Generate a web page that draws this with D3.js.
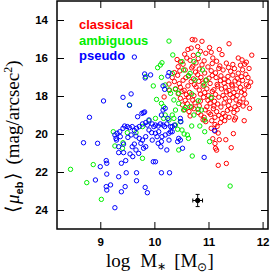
<!DOCTYPE html>
<html>
<head>
<meta charset="utf-8">
<script src="https://cdn.jsdelivr.net/npm/d3@7"></script>
<style>
body { margin: 0; background: #fff; }
.tick text { font-family: "Liberation Sans", Arial, sans-serif; font-weight: bold; font-size: 11.5px; }
.axisTitle { font-family: "Liberation Serif", "Times New Roman", serif; font-size: 19px; }
</style>
</head>
<body>
<div id="chart"></div>
<script>
// log M*, <mu_eb>
var classical = [
  [10.70,15.03],[10.75,15.05],[10.88,15.12],[11.38,15.25],[10.80,15.40],[10.62,15.55],[10.68,15.48],[11.02,15.45],[11.20,15.55],
  [10.56,15.80],[10.85,15.65],[10.95,15.75],[11.05,15.70],[11.25,15.82],[10.72,15.86],[11.80,15.85],[11.55,16.00],
  [10.60,16.00],[10.66,16.12],[10.81,16.03],[10.92,16.15],[11.08,16.00],[11.15,16.17],[11.62,16.10],[11.70,16.22],[10.48,16.20],[10.42,16.08],
  [10.44,16.46],[10.53,16.33],[10.71,16.43],[10.77,16.26],[10.88,16.36],[10.99,16.47],[11.07,16.29],[11.21,16.42],[11.33,16.27],[11.37,16.50],[11.45,16.34],[11.59,16.38],[11.67,16.33],
  [10.37,16.77],[10.47,16.68],[10.57,16.63],[10.69,16.52],[10.76,16.74],[10.83,16.58],[10.93,16.79],[11.05,16.67],[11.13,16.78],[11.19,16.55],[11.27,16.63],[11.41,16.70],[11.48,16.56],[11.55,16.80],[11.63,16.62],[11.69,16.86],[11.75,16.55],
  [10.33,17.03],[10.43,16.91],[10.58,17.04],[10.63,16.93],[10.72,17.10],[10.80,16.88],[10.86,17.02],[11.01,17.06],[11.07,16.92],[11.14,17.03],[11.23,16.94],[11.29,17.11],[11.36,16.97],[11.45,16.90],[11.53,17.07],[11.61,16.98],[11.73,17.03],
  [10.27,17.37],[10.37,17.24],[10.46,17.35],[10.53,17.17],[10.68,17.24],[10.74,17.40],[10.82,17.23],[10.90,17.32],[10.95,17.17],[11.03,17.34],[11.16,17.39],[11.22,17.19],[11.29,17.33],[11.37,17.24],[11.43,17.41],[11.49,17.21],[11.56,17.33],[11.63,17.18],[11.70,17.41],[11.78,17.27],
  [10.39,17.62],[10.48,17.54],[10.55,17.70],[10.62,17.47],[10.77,17.52],[10.83,17.69],[10.90,17.48],[10.97,17.62],[11.10,17.67],[11.17,17.48],[11.24,17.63],[11.31,17.53],[11.38,17.71],[11.44,17.47],[11.51,17.63],[11.59,17.55],[11.66,17.68],[11.74,17.50],
  [10.44,17.88],[10.51,17.77],[10.59,17.93],[10.65,17.81],[10.73,17.98],[10.85,17.90],[10.93,17.82],[11.00,17.98],[11.07,17.76],[11.13,17.92],[11.27,17.97],[11.33,17.78],[11.40,17.93],[11.47,17.82],[11.53,17.97],[11.61,17.80],[11.67,17.91],
  [10.48,18.12],[10.57,18.23],[10.63,18.06],[10.71,18.22],[10.85,18.27],[10.91,18.07],[10.99,18.23],[11.05,18.12],[11.11,18.28],[11.19,18.06],[11.31,18.12],[11.39,18.27],[11.45,18.07],[11.51,18.21],[11.58,18.32],[11.64,18.15],[11.70,18.37],
  [10.52,18.47],[10.61,18.41],[10.69,18.58],[10.75,18.36],[10.83,18.52],[10.97,18.57],[11.03,18.38],[11.10,18.53],[11.17,18.42],[11.23,18.58],[11.29,18.37],[11.37,18.51],[11.49,18.57],[11.56,18.45],[11.64,18.53],
  [10.56,18.72],[10.64,18.82],[10.73,18.67],[10.81,18.87],[10.94,18.73],[11.01,18.88],[11.09,18.67],[11.15,18.82],[11.27,18.92],[11.35,18.76],[11.41,18.67],[11.47,18.87],[11.53,18.72],[11.76,18.65],
  [10.66,19.05],[10.86,19.00],[10.92,19.12],[11.04,18.97],[11.12,19.12],[11.19,19.02],[11.24,19.17],[11.31,19.06],[11.38,19.12],[11.50,19.15],
  [10.90,19.25],[10.95,19.35],[11.06,19.30],[11.12,19.50],[11.22,19.40],[11.30,19.30],[11.48,19.26],[11.66,19.30],[11.16,19.60],
  [11.05,19.70],[11.12,19.85],[11.18,19.95],[11.46,19.98],[11.08,20.25],[11.20,20.30],[11.12,20.50],[11.32,20.30],[11.13,20.75],[11.15,20.85],[11.42,20.72],[11.18,21.65],[11.33,21.55],
  [10.18,18.05],[10.28,17.70]
];

var ambiguous = [
  [10.27,15.11],[10.34,15.84],[10.51,16.19],[10.73,16.19],[10.14,16.25],[10.11,16.37],[10.06,16.51],[9.84,16.98],[10.13,17.02],[10.33,16.81],
  [10.66,16.81],[10.75,17.16],[10.96,17.16],[9.98,17.47],[10.20,17.42],[10.27,17.68],[10.39,17.65],[10.30,17.86],[10.04,18.18],[10.13,18.39],
  [10.17,18.56],[10.36,18.21],[10.45,18.39],[10.57,18.61],[10.66,18.56],[10.81,18.25],[11.05,18.07],[10.81,18.70],[10.39,18.74],[10.33,19.00],
  [10.02,19.18],[9.90,19.30],[10.27,19.26],[10.36,19.18],[10.48,19.35],[10.39,19.53],[10.43,19.75],[10.61,20.05],[10.69,19.58],[10.93,19.88],
  [10.84,19.58],[9.54,18.47],[9.24,19.88],[9.27,20.63],[9.41,20.75],[9.42,20.46],[8.87,21.61],[8.45,21.86],[8.75,22.56],[9.02,23.44],
  [9.78,19.61],[9.50,19.93],[9.66,19.93],[9.78,21.28],[10.55,20.00],[10.63,20.23],[10.45,20.84],[11.02,20.40],[10.70,21.16],[11.40,22.74],
  [10.81,15.81],[10.54,16.63],[10.63,16.95],[10.89,16.63],[10.69,17.89],[10.92,17.42],[10.45,17.86],[10.54,18.74],[10.73,19.00],[10.87,18.74],
  [10.20,19.00],[10.17,19.18],[10.51,19.79],[10.93,19.26]
];

var pseudo = [
  [9.63,15.95],[9.06,18.26],[8.80,19.12],[9.42,18.07],[9.57,17.89],[9.54,18.49],[9.82,16.84],[9.93,16.89],[9.83,17.05],[9.80,18.88],
  [9.77,18.91],[9.69,19.09],[9.82,18.84],[8.69,20.46],[8.95,20.49],[9.27,20.05],[9.29,20.23],[9.31,19.96],[9.36,19.88],[9.42,19.70],
  [9.45,19.58],[9.50,19.61],[9.54,19.67],[9.59,19.61],[9.63,19.82],[9.67,19.70],[9.72,19.61],[9.78,19.47],[9.84,19.40],[9.87,19.53],
  [9.90,19.26],[9.96,19.47],[9.99,19.61],[10.02,19.53],[10.07,19.58],[10.11,19.47],[10.16,19.53],[10.19,19.61],[10.23,19.47],[10.30,19.61],
  [9.90,19.79],[9.95,19.93],[10.02,19.96],[10.08,19.88],[10.14,20.14],[10.20,20.05],[10.27,19.96],[10.30,19.88],[10.05,20.14],[9.84,20.14],
  [9.78,20.32],[9.72,20.23],[9.66,20.11],[9.57,20.05],[9.51,20.18],[9.43,20.53],[9.34,20.98],[9.43,20.98],[9.55,21.05],[9.39,21.54],
  [9.47,21.40],[9.11,21.40],[9.12,21.54],[9.00,21.72],[9.12,22.11],[9.34,22.25],[9.48,22.04],[8.91,22.42],[9.19,22.68],[9.11,22.77],
  [9.12,22.95],[9.46,22.77],[9.39,23.04],[9.27,23.88],[9.67,22.04],[9.67,22.46],[9.83,22.81],[9.87,23.09],[9.98,21.46],[10.02,21.46],
  [10.13,22.04],[10.28,22.04],[10.23,20.84],[10.12,20.67],[10.07,20.49],[10.13,20.40],[10.27,20.32],[10.25,19.18],[10.33,19.61],[10.16,17.47],
  [10.19,17.65],[10.20,18.65],[10.16,18.74],[10.13,19.00],[10.27,16.77],[10.25,16.95],[10.45,20.23],[10.43,20.40],[10.48,20.32],[10.52,20.75],
  [10.48,19.18],[10.49,19.35],[10.37,19.53],[10.92,21.23],[11.11,19.81],[10.33,19.88],[9.75,20.49],[9.80,20.75],[9.84,20.67],[9.63,20.53],
  [9.59,20.67],[9.66,20.84],[9.96,20.32],[9.71,21.02],[9.60,21.19],[9.30,20.32],[9.37,20.14],[9.34,20.67]
];

// typical error bar
var errPoint = [[10.8, 23.5]];
var errSize = [0.09, 0.32];

var classes = ["classical", "ambiguous", "pseudo"];
var classColors = ["#ff0000", "#00ee00", "#0000ff"];

var xMajor = [9, 10, 11, 12];
var yMajor = [14, 16, 18, 20, 22, 24];

var svgWidth = 273;
var svgHeight = 273;

var margin = {
    top: 1,
    right: 5,
    bottom: 44,
    left: 57
};

var width = svgWidth - margin.left - margin.right;
var height = svgHeight - margin.top - margin.bottom;

var svg = d3.select("#chart")
.append("svg")
.attr("width", svgWidth)
.attr("height", svgHeight);

var chartGroup = svg.append("g")
.attr("transform", `translate(${margin.left}, ${margin.top})`);

var xScale = d3.scaleLinear()
    .domain([8.2, 12.1])
    .range([0, width]);

var yScale = d3.scaleLinear()
    .domain([13, 25])
    .range([0, height]);

// minor ticks every 0.2 in x, 0.5 in y
var xMinor = d3.range(84, 122, 2).map(d => d / 10).filter(d => xMajor.indexOf(d) < 0);
var yMinor = d3.range(27, 50, 1).map(d => d / 2).filter(d => yMajor.indexOf(d) < 0);

function drawAxis(axisFn, scale, major, minor, transform, labels) {
    var g = chartGroup.append("g").attr("transform", transform);
    g.call(axisFn(scale).tickValues(minor).tickSize(-3.5).tickFormat(""));
    g.call(axisFn(scale).tickValues(major).tickSize(-7).tickPadding(labels ? 9 : 0)
        .tickFormat(labels ? d3.format("d") : ""));
    g.selectAll(".domain").remove();
    g.selectAll(".tick line").attr("stroke", "#000").attr("stroke-width", 1);
    return g;
}

drawAxis(d3.axisBottom, xScale, xMajor, xMinor, `translate(0, ${height})`, true);
drawAxis(d3.axisTop, xScale, xMajor, xMinor, "translate(0, 0)", false);
drawAxis(d3.axisLeft, yScale, yMajor, yMinor, "translate(0, 0)", true);
drawAxis(d3.axisRight, yScale, yMajor, yMinor, `translate(${width}, 0)`, false);

chartGroup.append("rect")
    .attr("width", width)
    .attr("height", height)
    .attr("fill", "none")
    .attr("stroke", "#000")
    .attr("stroke-width", 1.5);

// points
var sets = [classical, ambiguous, pseudo];
sets.forEach(function(set, i) {
    chartGroup.append("g").selectAll("circle")
    .data(set)
    .enter()
    .append("circle")
    .attr("cx", d => xScale(d[0]))
    .attr("cy", d => yScale(d[1]))
    .attr("r", 2.2)
    .attr("fill", "none")
    .attr("stroke", classColors[i])
    .attr("stroke-width", 1);
});

// error bar
var errGroup = chartGroup.append("g").attr("stroke", "#000").attr("stroke-width", 1);
errPoint.forEach(function(p) {
    var cx = xScale(p[0]), cy = yScale(p[1]);
    var x0 = xScale(p[0] - errSize[0]), x1 = xScale(p[0] + errSize[0]);
    var y0 = yScale(p[1] - errSize[1]), y1 = yScale(p[1] + errSize[1]);
    errGroup.append("line").attr("x1", x0).attr("x2", x1).attr("y1", cy).attr("y2", cy);
    errGroup.append("line").attr("x1", cx).attr("x2", cx).attr("y1", y0).attr("y2", y1);
    errGroup.append("line").attr("x1", x0).attr("x2", x0).attr("y1", cy - 2).attr("y2", cy + 2);
    errGroup.append("line").attr("x1", x1).attr("x2", x1).attr("y1", cy - 2).attr("y2", cy + 2);
    errGroup.append("line").attr("x1", cx - 2).attr("x2", cx + 2).attr("y1", y0).attr("y2", y0);
    errGroup.append("line").attr("x1", cx - 2).attr("x2", cx + 2).attr("y1", y1).attr("y2", y1);
    errGroup.append("circle").attr("cx", cx).attr("cy", cy).attr("r", 2.2).attr("fill", "#000");
});

// legend
chartGroup.selectAll(".legend")
    .data(classes)
    .enter()
    .append("text")
    .attr("x", 22)
    .attr("y", (d, i) => 28 + i * 15.5)
    .attr("fill", (d, i) => classColors[i])
    .attr("font-family", "Liberation Sans, Arial, sans-serif")
    .attr("font-weight", "bold")
    .attr("font-size", "13px")
    .text(d => d);

// axis titles
var xTitle = svg.append("text")
    .attr("class", "axisTitle")
    .attr("x", 106)
    .attr("y", 266.5);
xTitle.append("tspan").text("log");
xTitle.append("tspan").attr("dx", 10).text("M");
xTitle.append("tspan").attr("dy", 3).attr("font-size", "11px").text("\u2217");
xTitle.append("tspan").attr("dx", 8).attr("dy", -3).text("[M");
xTitle.append("tspan").attr("dy", 4).attr("font-size", "12px").text("\u2299");
xTitle.append("tspan").attr("dy", -4).text("]");

var yTitle = svg.append("text")
    .attr("class", "axisTitle")
    .attr("transform", "rotate(-90)")
    .attr("x", -213)
    .attr("y", 18.5);
yTitle.append("tspan").text("\u27e8");
yTitle.append("tspan").attr("font-style", "italic").attr("dx", 2).text("\u03bc");
yTitle.append("tspan").attr("dy", 4).attr("font-size", "11px")
    .attr("font-family", "Liberation Sans, Arial, sans-serif").attr("font-weight", "bold").text("eb");
yTitle.append("tspan").attr("dy", -4).attr("dx", 2).text("\u27e9");
yTitle.append("tspan").attr("dx", 8).text("(mag/arcsec");
yTitle.append("tspan").attr("dy", -7).attr("font-size", "12px").text("2");
yTitle.append("tspan").attr("dy", 7).text(")");
</script>
</body>
</html>
